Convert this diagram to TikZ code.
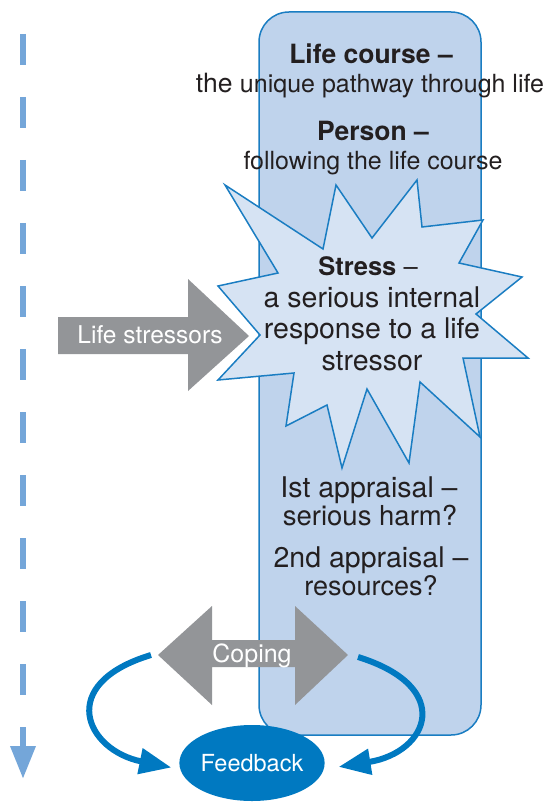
\documentclass[tikz,border=0pt]{standalone}
\usepackage{fontspec}
\setmainfont{TeX Gyre Heros}
\usepackage{xcolor}
\usepackage{tikz}
\usetikzlibrary{arrows.meta,shapes.geometric}

\definecolor{courseblue}{HTML}{BFD3EC}
\definecolor{edgeblue}{HTML}{1A7DC2}
\definecolor{starblue}{HTML}{D6E3F3}
\definecolor{arrowgrey}{HTML}{939598}
\definecolor{fbblue}{HTML}{0079C1}
\definecolor{timeblue}{HTML}{74A6D9}
\definecolor{inkdark}{HTML}{231F20}

\newcommand{\fsz}[1]{\fontsize{#1}{#1}\selectfont}

\begin{document}
\begin{tikzpicture}[x=1pt,y=-1pt]
			\tikzstyle{every node}=[inner sep=0pt, text=inkdark];
			\tikzstyle{txtline}=[anchor=base];
			\useasboundingbox (0,0) rectangle (548,802);
			
			%Time line
			\coordinate (tstart) at (23,34);
			\coordinate (tend) at (23,779);
			\draw[timeblue, line width=6.5pt, dash pattern=on 31pt off 32pt, -{Triangle[length=33pt,width=24pt]}] (tstart) -- (tend);
			
			%Life course
			\draw[edgeblue, fill=courseblue, line width=1.5pt, rounded corners=30pt] (259,12) rectangle (481,735);
			
			%Stress star
			\draw[edgeblue, fill=starblue, line width=1.5pt] (225,185) -- (323,249) -- (336,185) -- (372,238) -- (417,180) -- (422,227) -- (483,220) -- (459,263) -- (522,277) -- (476,314) -- (528,358) -- (463,358) -- (480,437) -- (420,382) -- (409,463) -- (367,389) -- (342,468) -- (327,405) -- (286,426) -- (294,373) -- (218,380) -- (260,335) -- (218,286) -- (278,273) -- cycle;
			
			%Life stressors
			\fill[arrowgrey] (58,317) -- (188,317) -- (188,279) -- (249,336) -- (188,391) -- (188,354) -- (58,354) -- cycle;
			\node[txtline, text=white, font=\fsz{24.5}] (stressors) at (150,343) {Life stressors};
			
			%Texts
			\node[txtline, font=\fsz{26.5}\bfseries] (course) at (371,64) {Life course –};
			\node[txtline] (coursesub) at (370,93) {\fsz{26.5}the \fsz{25}unique pathway through life};
			\node[txtline, font=\fsz{26.5}\bfseries] (person) at (373,141) {Person –};
			\node[txtline, font=\fsz{25}] (personsub) at (373,170) {following the life course};
			\node[txtline, font=\fsz{25.5}] (stress) at (368,275) {\textbf{Stress} –};
			\node[txtline, font=\fsz{28.5}] (stressa) at (372,307) {a serious internal};
			\node[txtline, font=\fsz{28.5}] (stressb) at (372,338) {response to a life};
			\node[txtline, font=\fsz{28.5}] (stressc) at (372,370) {stressor};
			\node[txtline, font=\fsz{28.5}] (first) at (369,497) {Ist appraisal –};
			\node[txtline, font=\fsz{27.5}] (firstsub) at (370,525) {serious harm?};
			\node[txtline, font=\fsz{28.5}] (second) at (371,567) {2nd appraisal –};
			\node[txtline, font=\fsz{27}] (secondsub) at (371,595) {resources?};
			
			%Coping
			\fill[arrowgrey] (158,655) -- (212,606) -- (212,640) -- (295,640) -- (295,606) -- (348,655) -- (295,705) -- (295,667) -- (212,667) -- (212,705) -- cycle;
			\node[txtline, text=white, font=\fsz{25}] (coping) at (252,662) {Coping};
			\coordinate (copeL) at (151,655);
			\coordinate (copeR) at (358,657);
			
			%Feedback
			\node[ellipse, fill=fbblue, minimum width=138pt, minimum height=76pt, text=white, font=\fsz{23.5}] (fb) at (252,763) {Feedback};
			
			%Loops
			\draw[fbblue, line width=6pt, -{Triangle[length=32pt,width=25pt]}, shorten >=9pt] (copeL) .. controls +(-96,29) and +(-94,-19) .. (fb.185);
			\draw[fbblue, line width=6pt, -{Triangle[length=32pt,width=25pt]}, shorten >=15pt] (copeR) .. controls +(97,30) and +(105,-17) .. (fb.355);
			\end{tikzpicture}
\end{document}
